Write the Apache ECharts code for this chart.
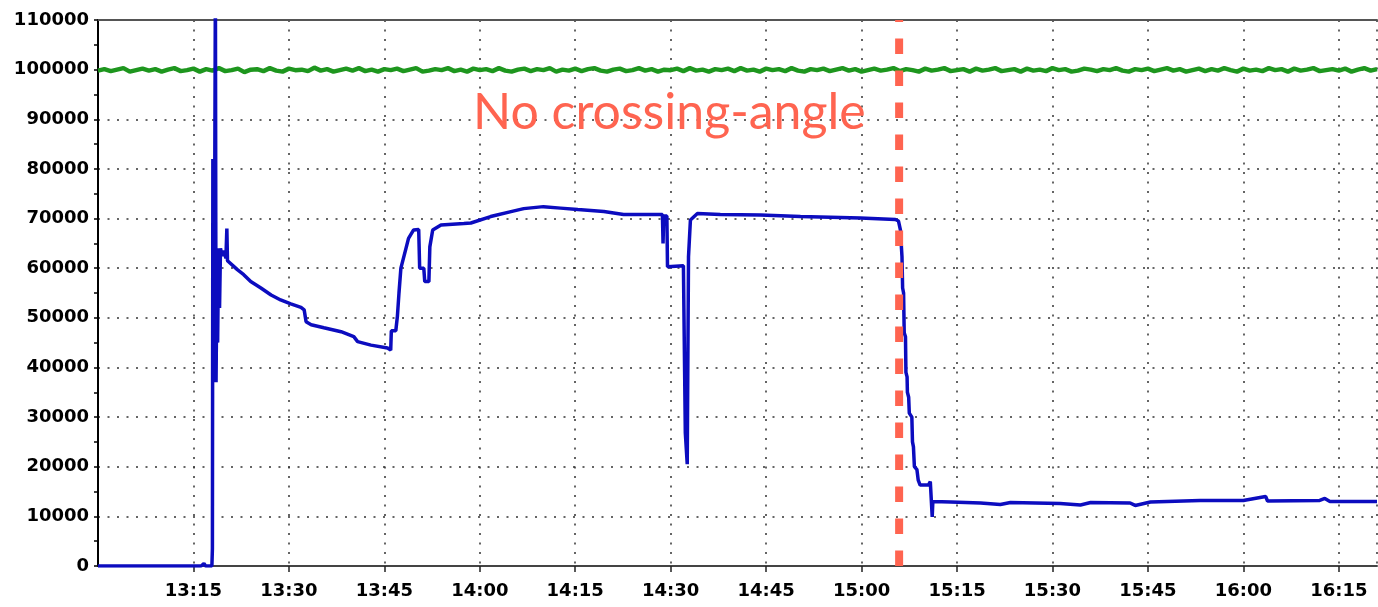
<!DOCTYPE html>
<html><head><meta charset="utf-8">
<script src="https://cdn.jsdelivr.net/npm/echarts@6/dist/echarts.min.js"></script>
<style>html,body{margin:0;padding:0;background:#fff}#c{width:1378px;height:607px}</style>
</head><body><div id="c"></div>
<script>
// x values are minutes after 13:00
const xTickLabels = ['13:15','13:30','13:45','14:00','14:15','14:30','14:45','15:00','15:15','15:30','15:45','16:00','16:15'];
const yTickValues = [0,10000,20000,30000,40000,50000,60000,70000,80000,90000,100000,110000];

const blueTimes = [0,16.2,16.65,16.9,17.9,17.98,18.05,18.2,18.25,18.45,18.55,18.7,18.8,18.95,19.1,19.25,19.5,19.8,20.1,20.25,20.35,20.6,
  21.9,22.9,24.0,25.6,27.2,28.7,30.3,31.9,32.4,32.7,33.5,35.5,38.2,40.2,40.8,42.9,45.5,46.0,46.1,46.8,47.05,47.3,47.6,48.4,48.8,49.6,50.4,50.55,51.2,51.35,52.0,52.15,52.6,53.9,57.5,58.6,
  61.7,64.9,66.9,70.0,72.7,75.4,79.5,82.6,88.7,88.8,88.9,89.4,89.5,92.0,92.3,92.6,92.8,93.1,94.2,97.8,104.1,110.4,119.8,125.3,125.8,
  126.1,126.35,126.45,126.6,126.7,126.9,126.97,127.15,127.2,127.4,127.5,127.9,128.0,128.15,128.3,128.7,128.9,129.2,130.5,130.8,130.95,131.1,131.2,
  134.0,138.7,141.8,143.4,151.2,154.4,156.0,162.2,163.0,165.4,173.2,180.0,183.5,183.8,192.0,192.8,193.6,201];
const blueValues = [0,0,500,0,0,3500,82000,82000,40000,118000,37000,60000,45000,64000,52000,64000,62500,63500,62000,68000,61500,61300,
  59700,58700,57300,56000,54600,53600,52800,52100,51600,49200,48600,48000,47200,46200,45200,44500,43900,43500,47400,47400,50300,55000,60000,64000,66000,67700,67800,60000,60000,57300,57300,64300,67700,68700,69000,69100,
  70400,71400,72000,72400,72100,71800,71400,70800,70800,65000,70500,70500,60300,60500,26800,20500,62300,69700,71000,70800,70700,70400,70100,69800,69500,
  67700,62300,56000,55000,47000,46200,39000,38100,35000,34000,30800,30000,25000,24000,20000,19400,17300,16300,16300,17000,17000,9900,13000,
  12900,12700,12400,12800,12600,12300,12800,12700,12200,12900,13200,13200,14000,13100,13200,13600,13000,13000];

// green trace, one reading per minute from 13:00
const greenValues = [
  99800,100100,99700,100000,100300,99600,99900,100200,99800,100100,99600,100000,100300,99700,99900,100200,99600,100100,99800,100300,
  99700,99900,100200,99500,100000,100100,99700,100300,99800,99600,100200,99900,100000,99700,100400,99800,100100,99600,99900,100200,
  99800,100300,99700,100000,99600,100100,99900,100200,99700,100000,100300,99600,99800,100100,99900,100300,99700,100000,99600,100200,
  99900,100100,99700,100300,99800,99600,100000,100200,99700,100100,99900,100300,99600,100000,99800,100200,99700,100100,100300,99800,
  99600,100000,100200,99700,99900,100300,99800,100100,99600,100000,99900,100200,99700,100300,99800,100000,99600,100100,99900,100200,
  99700,100300,99800,100000,99600,100200,99900,100100,99700,100300,99800,99600,100100,99900,100200,99700,100000,100300,99800,100100,
  99600,99900,100200,99800,100000,100300,99700,100100,99900,99600,100200,99800,100000,100300,99700,99900,100100,99600,100200,99800,
  100000,100300,99700,99900,100100,99600,100200,99800,100000,99700,100300,99900,100100,99600,99800,100200,100000,99700,100100,99900,
  100300,99800,99600,100100,99900,100200,99700,100000,100300,99800,100100,99600,99900,100200,99700,100100,99800,100300,99900,99600,
  100200,99800,100000,99700,100300,99900,100100,99600,100200,99800,100000,100300,99700,99900,100100,99800,100200,99600,100000,100300,
  99800,100100];

const markerTime = 125.9;
const markerRange = [0, 110000];
const annotation = 'No crossing-angle';

const chart = echarts.init(document.getElementById('c'), null, {renderer:'canvas'});
const gridDots = {color:'#333', width:1.5, type:[2,7.5]};
const lblFont = {color:'#000', fontFamily:'DejaVu Sans', fontWeight:'bold', fontSize:18};
chart.setOption({
  animation:false,
  backgroundColor:'#fff',
  grid:{left:98, right:1, top:20, bottom:41},
  xAxis:[{
    type:'value', min:0, max:201, interval:15,
    axisLine:{lineStyle:{color:'#444', width:2}},
    axisTick:{length:6, lineStyle:{color:'#222', width:1.5}},
    axisLabel:Object.assign({margin:16, showMinLabel:false, showMaxLabel:false,
      formatter:v => (v % 15 === 0 && v > 0) ? (xTickLabels[v/15 - 1] || '') : ''}, lblFont),
    splitLine:{show:true, lineStyle:gridDots}
  },{
    type:'value', position:'top', min:0, max:201,
    axisLine:{show:true, lineStyle:{color:'#555', width:2}},
    axisTick:{show:false}, axisLabel:{show:false}, splitLine:{show:false}
  }],
  yAxis:{
    type:'value', min:yTickValues[0], max:yTickValues[yTickValues.length-1], interval:10000,
    axisLine:{show:true, lineStyle:{color:'#000', width:2}},
    axisTick:{show:true, length:4, lineStyle:{color:'#000', width:1.5}},
    minorTick:{show:true, splitNumber:2, length:4, lineStyle:{color:'#000', width:1.5}},
    axisLabel:Object.assign({margin:9, formatter:v => String(v)}, lblFont),
    splitLine:{show:true, lineStyle:gridDots}
  },
  graphic:[{
    type:'text', left:473, top:88, z:100,
    style:{text:annotation, fill:'#FF6450', font:'50px Lato'}
  }],
  series:[{
    type:'line', data:greenValues.map((v,i)=>[i,v]), showSymbol:false, symbol:'none',
    lineStyle:{color:'#1e961e', width:4.5}, z:3
  },{
    type:'line', data:blueTimes.map((t,i)=>[t,blueValues[i]]), showSymbol:false, symbol:'none',
    lineStyle:{color:'#0c0cbf', width:3.5}, z:4
  },{
    type:'line', data:[[markerTime, markerRange[0]],[markerTime, markerRange[1]]], showSymbol:false, symbol:'none',
    lineStyle:{color:'#FF6450', width:8, type:[15.5,16.5]}, z:5
  }]
});
</script></body></html>
